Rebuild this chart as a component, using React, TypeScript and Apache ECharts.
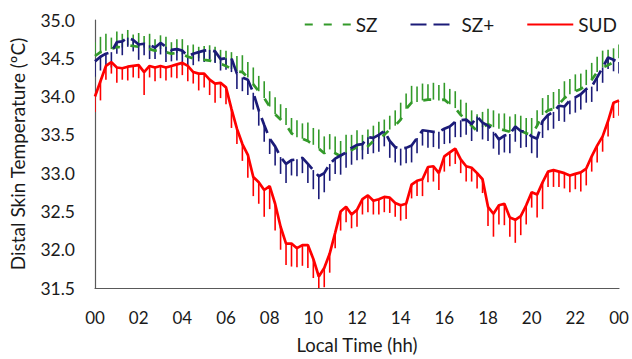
import React, { useEffect, useRef } from "react";
import * as echarts from "echarts";

const times: number[] = Array.from({ length: 97 }, (_, i) => i * 0.25);
const xTicks = ["00", "02", "04", "06", "08", "10", "12", "14", "16", "18", "20", "22", "00"];

const sz = [
  34.53, 34.58, 34.6, 34.62, 34.65, 34.64, 34.67, 34.66, 34.65, 34.64,
  34.62, 34.6, 34.62, 34.58, 34.56, 34.57, 34.55, 34.52, 34.5, 34.5,
  34.48, 34.47, 34.45, 34.43, 34.4, 34.36, 34.33, 34.32, 34.25, 34.16,
  34.07, 33.98, 33.87, 33.77, 33.7, 33.63, 33.52, 33.47, 33.45, 33.42,
  33.37, 33.32, 33.26, 33.31, 33.26, 33.22, 33.25, 33.3, 33.34, 33.3,
  33.35, 33.42, 33.45, 33.5, 33.57, 33.62, 33.7, 33.84, 33.92, 33.93,
  33.95, 33.96, 33.96, 33.95, 33.96, 33.9, 33.85, 33.76, 33.7, 33.62,
  33.55, 33.6, 33.64, 33.6, 33.58, 33.56, 33.54, 33.55, 33.55, 33.52,
  33.5, 33.62, 33.76, 33.82, 33.84, 33.9, 33.98, 34.03, 34.07, 34.1,
  34.15, 34.22, 34.32, 34.38, 34.41, 34.45, 34.5,
];
const szErr = [
  0.18, 0.2, 0.22, 0.15, 0.2, 0.18, 0.2, 0.15, 0.18, 0.15,
  0.2, 0.15, 0.18, 0.2, 0.15, 0.18, 0.2, 0.15, 0.18, 0.15,
  0.18, 0.2, 0.2, 0.18, 0.2, 0.22, 0.2, 0.22, 0.2, 0.22,
  0.2, 0.22, 0.2, 0.22, 0.2, 0.22, 0.2, 0.22, 0.2, 0.24,
  0.22, 0.25, 0.22, 0.2, 0.22, 0.2, 0.25, 0.2, 0.22, 0.2,
  0.22, 0.2, 0.22, 0.2, 0.18, 0.2, 0.22, 0.2, 0.22, 0.2,
  0.22, 0.2, 0.22, 0.2, 0.22, 0.2, 0.22, 0.2, 0.22, 0.2,
  0.22, 0.2, 0.2, 0.22, 0.2, 0.22, 0.2, 0.22, 0.2, 0.2,
  0.22, 0.2, 0.22, 0.2, 0.22, 0.2, 0.22, 0.2, 0.22, 0.2,
  0.2, 0.22, 0.2, 0.22, 0.2, 0.18, 0.18,
];
const szPlus = [
  34.46, 34.52, 34.56, 34.58, 34.71, 34.72, 34.77, 34.74, 34.68, 34.69,
  34.67, 34.64, 34.7, 34.65, 34.61, 34.62, 34.6, 34.53, 34.56, 34.58,
  34.6, 34.61, 34.59, 34.49, 34.5, 34.5, 34.3, 34.25, 34.22, 34.05,
  33.82, 33.63, 33.45, 33.35, 33.21, 33.12, 33.17, 33.18, 33.2, 33.12,
  33.04, 32.96, 33.0, 33.12, 33.19, 33.23, 33.27, 33.33, 33.37, 33.38,
  33.47, 33.46, 33.5, 33.55, 33.42, 33.34, 33.32, 33.33, 33.36, 33.46,
  33.56, 33.55, 33.54, 33.54, 33.58, 33.61, 33.67, 33.69, 33.7, 33.64,
  33.74, 33.66, 33.62, 33.54, 33.44, 33.49, 33.51, 33.61, 33.55, 33.54,
  33.48, 33.45, 33.68, 33.76, 33.8, 33.88, 33.87, 33.95, 33.99, 34.03,
  34.1, 34.13, 34.25, 34.38, 34.51, 34.48, 34.45,
];
const szPlusErr = [
  0.2, 0.18, 0.15, 0.2, 0.15, 0.18, 0.12, 0.15, 0.2, 0.15,
  0.18, 0.15, 0.15, 0.2, 0.15, 0.15, 0.2, 0.15, 0.15, 0.12,
  0.15, 0.12, 0.15, 0.15, 0.15, 0.18, 0.2, 0.18, 0.2, 0.22,
  0.2, 0.22, 0.2, 0.25, 0.22, 0.25, 0.2, 0.22, 0.2, 0.25,
  0.25, 0.3, 0.25, 0.22, 0.2, 0.25, 0.2, 0.22, 0.2, 0.2,
  0.22, 0.2, 0.22, 0.2, 0.22, 0.2, 0.22, 0.2, 0.22, 0.2,
  0.2, 0.22, 0.2, 0.22, 0.2, 0.22, 0.2, 0.22, 0.2, 0.22,
  0.2, 0.22, 0.2, 0.22, 0.2, 0.22, 0.25, 0.2, 0.22, 0.2,
  0.22, 0.25, 0.22, 0.2, 0.22, 0.2, 0.2, 0.18, 0.2, 0.2,
  0.18, 0.2, 0.18, 0.2, 0.15, 0.15, 0.15,
];
const sud = [
  34.0, 34.2, 34.4, 34.45, 34.38, 34.37, 34.39, 34.4, 34.41, 34.32,
  34.4, 34.38, 34.4, 34.38, 34.4, 34.42, 34.44, 34.4, 34.32, 34.3,
  34.3, 34.22, 34.17, 34.18, 34.12, 33.84, 33.58, 33.38, 33.24, 32.95,
  32.88, 32.78, 32.83, 32.6, 32.3, 32.08, 32.08, 32.02, 32.06, 32.06,
  31.88, 31.65, 31.76, 31.95, 32.22, 32.5, 32.56, 32.46, 32.52, 32.66,
  32.71, 32.64, 32.66, 32.69, 32.68, 32.61, 32.58, 32.6, 32.85, 32.9,
  32.92, 33.08, 33.09, 33.0, 33.22, 33.27, 33.32, 33.18, 33.09, 33.07,
  33.0, 32.92, 32.56, 32.47, 32.58, 32.6, 32.42, 32.39, 32.44, 32.58,
  32.75, 32.72, 32.88, 33.02, 33.04, 33.02, 33.0, 32.97, 32.99, 33.01,
  33.06, 33.22, 33.36, 33.48, 33.68, 33.92, 33.95,
];
const sudErr = [
  0.2, 0.25, 0.18, 0.15, 0.2, 0.15, 0.18, 0.15, 0.17, 0.3,
  0.15, 0.18, 0.16, 0.17, 0.15, 0.18, 0.16, 0.2, 0.15, 0.22,
  0.18, 0.2, 0.25, 0.2, 0.22, 0.25, 0.2, 0.22, 0.3, 0.25,
  0.28, 0.35, 0.3, 0.35, 0.3, 0.28, 0.3, 0.25, 0.27, 0.3,
  0.25, 0.3, 0.25, 0.25, 0.2, 0.25, 0.2, 0.18, 0.22, 0.2,
  0.22, 0.18, 0.2, 0.2, 0.2, 0.18, 0.2, 0.2, 0.18, 0.2,
  0.22, 0.2, 0.2, 0.22, 0.2, 0.18, 0.2, 0.18, 0.2, 0.18,
  0.2, 0.18, 0.25, 0.3, 0.25, 0.28, 0.25, 0.3, 0.25, 0.25,
  0.2, 0.3, 0.35, 0.2, 0.22, 0.2, 0.2, 0.22, 0.2, 0.25,
  0.22, 0.2, 0.22, 0.2, 0.2, 0.2, 0.2,
];

const GREEN = "#339a2a";
const NAVY = "#1b1b78";
const RED = "#ff0000";
const TEXT = "#1a1a1a";
const FONT = "Lato, 'Open Sans', sans-serif";

function errSeries(name: string, vals: number[], errs: number[], dir: number, color: string) {
  return {
    type: "custom",
    name,
    clip: true,
    silent: true,
    data: times.map((t, i) => [t, vals[i], errs[i]]),
    encode: { x: 0, y: 1 },
    renderItem: (_p: any, api: any) => {
      const x = api.value(0);
      const y = api.value(1);
      const e = api.value(2);
      const a = api.coord([x, y]);
      const b = api.coord([x, y + dir * e]);
      return {
        type: "line",
        shape: { x1: a[0], y1: a[1], x2: b[0], y2: b[1] },
        style: { stroke: color, lineWidth: 1.6 },
      };
    },
  };
}

function lineSeries(name: string, vals: number[], color: string, dash: any) {
  return {
    type: "line",
    name,
    symbol: "none",
    showSymbol: false,
    data: times.map((t, i) => [t, vals[i]]),
    lineStyle: { color, width: 2.7, type: dash },
    itemStyle: { color },
  };
}

export default function App() {
  const ref = useRef<HTMLDivElement>(null);
  useEffect(() => {
    if (!ref.current) return;
    const chart = echarts.init(ref.current, undefined, { renderer: "svg" });
    chart.setOption({
      animation: false,
      backgroundColor: "#ffffff",
      textStyle: { fontFamily: FONT },
      grid: { left: 92, right: 13, top: 20, bottom: 68 },
      legend: {
        data: ["SZ", "SZ+", "SUD"],
        top: 10,
        right: 10,
        itemWidth: 46,
        itemHeight: 14,
        itemGap: 32,
        itemStyle: { opacity: 0 },
        textStyle: { fontSize: 19, color: TEXT, fontFamily: FONT },
      },
      xAxis: {
        type: "value",
        min: 0,
        max: 24,
        interval: 2,
        name: "Local Time (hh)",
        nameLocation: "middle",
        nameGap: 47,
        nameTextStyle: { fontSize: 18.5, color: TEXT, fontFamily: FONT },
        axisLine: { show: true, lineStyle: { color: "#595959", width: 1.2 } },
        axisTick: { show: false },
        splitLine: { show: false },
        axisLabel: {
          fontSize: 17,
          color: TEXT,
          margin: 21,
          fontFamily: FONT,
          formatter: (v: number) => xTicks[Math.round(v / 2)],
        },
      },
      yAxis: {
        type: "value",
        min: 31.5,
        max: 35,
        interval: 0.5,
        name: "Distal Skin Temperature (ºC)",
        nameLocation: "middle",
        nameGap: 68,
        nameTextStyle: { fontSize: 19, color: TEXT, fontFamily: FONT },
        axisLine: { show: true, lineStyle: { color: "#595959", width: 1.2 } },
        axisTick: { show: false },
        splitLine: { show: false },
        axisLabel: {
          fontSize: 17.5,
          color: TEXT,
          margin: 20,
          fontFamily: FONT,
          formatter: (v: number) => v.toFixed(1),
        },
      },
      series: [
        errSeries("SZ err", sz, szErr, 1, GREEN),
        lineSeries("SZ", sz, GREEN, [8, 11]),
        errSeries("SZ+ err", szPlus, szPlusErr, -1, NAVY),
        lineSeries("SZ+", szPlus, NAVY, [16, 7]),
        errSeries("SUD err", sud, sudErr, -1, RED),
        lineSeries("SUD", sud, RED, "solid"),
      ],
    });
    return () => chart.dispose();
  }, []);
  return (
    <div
      ref={ref}
      style={{ position: "fixed", left: 0, top: 0, width: 632, height: 359 }}
    />
  );
}
